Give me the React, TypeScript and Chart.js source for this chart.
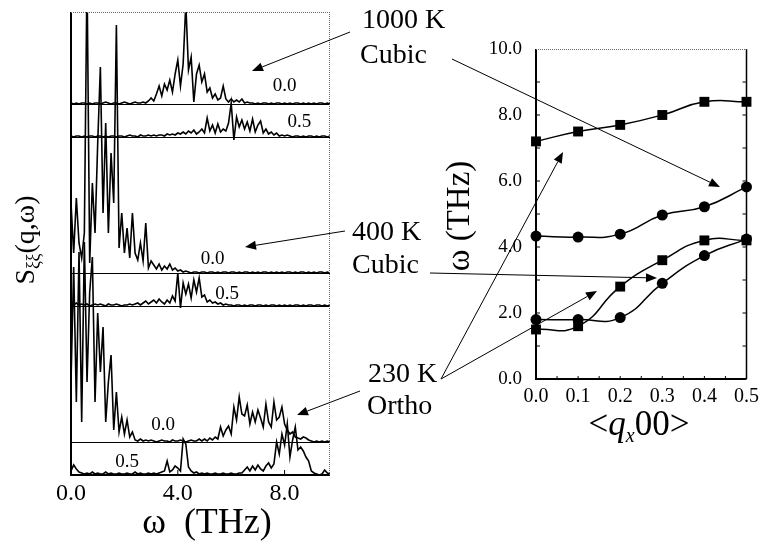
import React, { useEffect, useRef } from "react";
import { Chart, registerables } from "chart.js";
Chart.register(...registerables);

// ---------- Left panel: S(q,ω) spectra ----------
const FREQ = [
  0, 0.1, 0.2, 0.3, 0.4, 0.5, 0.6, 0.7, 0.8, 0.9,
  1, 1.1, 1.2, 1.3, 1.4, 1.5, 1.6, 1.7, 1.8, 1.9,
  2, 2.1, 2.2, 2.3, 2.4, 2.5, 2.6, 2.7, 2.8, 2.9,
  3, 3.1, 3.2, 3.3, 3.4, 3.5, 3.6, 3.7, 3.8, 3.9,
  4, 4.1, 4.2, 4.3, 4.4, 4.5, 4.6, 4.7, 4.8, 4.9,
  5, 5.1, 5.2, 5.3, 5.4, 5.5, 5.6, 5.7, 5.8, 5.9,
  6, 6.1, 6.2, 6.3, 6.4, 6.5, 6.6, 6.7, 6.8, 6.9,
  7, 7.1, 7.2, 7.3, 7.4, 7.5, 7.6, 7.7, 7.8, 7.9,
  8, 8.1, 8.2, 8.3, 8.4, 8.5, 8.6, 8.7, 8.8, 8.9,
  9, 9.1, 9.2, 9.3, 9.4, 9.5, 9.6, 9.7,
];

// intensities (arbitrary units) above each spectrum's own baseline
const S_1000K_Q00 = [
  1, 0, 1, 0, 1, 1, 0, 1, 0, 1,
  1, 0, 1, 2, 1, 0, 1, 1, 0, 1,
  2, 1, 0, 1, 2, 1, 1, 2, 1, 3,
  6, 3, 10, 18, 8, 20, 14, 24, 12, 30,
  44, 18, 40, 100, 34, 47, 2, 30, 39, 22,
  30, 12, 16, 6, 10, 4, 6, 18, 5, 2,
  5, 2, 4, 2, 5, 1, 2, 1, 1, 0,
  1, 0, 1, 1, 0, 1, 0, 1, 1, 0,
  1, 0, 1, 0, 1, 1, 0, 1, 0, 1,
  0, 1, 0, 1, 1, 0, 1, 0,
];
const S_1000K_Q05 = [
  1, 0, 1, 1, 0, 1, 0, 1, 1, 0,
  1, 1, 0, 1, 0, 1, 1, 0, 1, 1,
  0, 1, 2, 1, 1, 0, 2, 1, 1, 2,
  1, 2, 1, 2, 2, 1, 3, 2, 3, 2,
  4, 3, 5, 3, 6, 4, 7, 3, 5, 8,
  4, 19, 6, 12, 4, 13, 5, 8, 6, 14,
  34, -3, 20, 10, 17, 8, 15, 6, 18, 5,
  12, 16, 4, 8, 3, 5, 2, 4, 1, 2,
  1, 2, 1, 0, 1, 1, 0, 1, 0, 1,
  1, 0, 1, 0, 1, 1, 0, 1,
];
const S_400K_Q00 = [
  70, 20, 75, 30, 15, 40, 300, 10, 90, 40,
  130, 206, 60, 150, 40, 120, 70, 248, 25, 60,
  20, 45, 15, 60, 20, 13, 30, 12, 50, 5,
  12, 8, 4, 9, 3, 7, 4, 9, 3, 5,
  2, 3, 1, 2, 1, 0, 1, 1, 0, 1,
  1, 0, 1, 1, 0, 1, 0, 1, 1, 0,
  1, 1, 0, 1, 0, 1, 1, 0, 1, 0,
  1, 0, 1, 1, 0, 1, 0, 1, 0, 1,
  0, 1, 1, 0, 1, 0, 1, 1, 0, 1,
  0, 1, 0, 1, 1, 0, 1, 0,
];
const S_400K_Q05 = [
  2, 1, 3, 1, 2, 1, 2, 0, 1, 2,
  1, 2, 1, 0, 2, 1, 1, 2, 1, 0,
  1, 1, 2, 1, 2, 3, 1, 3, 5, 2,
  4, 6, 3, 7, 4, 2, 6, 3, 10, 5,
  33, -2, 23, 12, 22, 8, 26, 14, 28, 9,
  11, 4, 6, 3, 4, 2, 3, 1, 2, 1,
  1, 0, 1, 1, 0, 1, 0, 1, 1, 0,
  1, 1, 0, 1, 0, 1, 1, 0, 1, 0,
  1, 0, 1, 0, 1, 1, 0, 1, 0, 1,
  1, 0, 1, 1, 0, 1, 0, 1,
];
const S_230K_Q00 = [
  60, 175, 40, 190, 20, 200, 60, 150, 185, 40,
  129, 70, 115, 20, 60, 87, 12, 50, 10, 25,
  8, 22, 5, 10, 2, 1, 3, 1, 2, 1,
  2, 1, 0, 1, 2, 1, 1, 0, 2, 1,
  1, 2, 1, 0, 1, 2, 1, 1, 3, 1,
  3, 1, 4, 2, 5, 3, 15, 6, 12, 16,
  8, 35, 22, 45, 28, 26, 37, 18, 30, 20,
  32, 24, 15, 38, 20, 15, 40, 22, 25, 35,
  18, 12, 8, 10, 5, 4, 3, 5, 4, 2,
  1, 0, 1, 0, 1, 0, 1, 0,
];
const S_230K_Q05 = [
  4, 10, 6, 3, 2, 1, 2, 1, 3, 1,
  2, 1, 1, 3, 1, 2, 1, 1, 2, 1,
  1, 2, 1, 1, 3, 1, 2, 1, 1, 2,
  1, 2, 1, 2, 3, 4, 14, 3, 5, 9,
  7, 4, 36, 31, 8, 4, 2, 3, 1, 2,
  1, 2, 1, 1, 2, 1, 1, 2, 1, 1,
  2, 1, 1, 2, 2, 5, 8, 4, 9, 5,
  10, 6, 4, 9, 12, 7, 11, 33, 21, 41,
  30, 51, 18, 35, 48, 25, 28, 24, 18, 14,
  4, 2, 1, 0, 1, 5, 2, 1,
];
const SPECTRA = [S_1000K_Q00, S_1000K_Q05, S_400K_Q00, S_400K_Q05, S_230K_Q00, S_230K_Q05];
const OFFSETS = [371, 338, 202, 169, 33, 0];
const SPEC_LABELS = ["0.0", "0.5", "0.0", "0.5", "0.0", "0.5"];
const SPEC_LABEL_FREQ = [8.0, 8.55, 5.3, 5.85, 3.45, 2.1];
const SPEC_LABEL_RISE = [13, 10, 9, 7, 12, 8];
const LEFT_X_TICKS = [0, 4, 8];

// ---------- Right panel: dispersion ----------
const Q = [0, 0.1, 0.2, 0.3, 0.4, 0.5];
const SQ_UPPER = [7.2, 7.5, 7.7, 8.0, 8.4, 8.4];
const CI_MIDDLE = [4.33, 4.3, 4.39, 4.97, 5.22, 5.82];
const SQ_LOWER = [1.5, 1.6, 2.8, 3.6, 4.2, 4.2];
const CI_LOWER = [1.8, 1.8, 1.86, 2.9, 3.74, 4.24];
const RIGHT_Y_TICKS = [0, 2, 4, 6, 8, 10];
const RIGHT_X_TICKS = [0, 0.1, 0.2, 0.3, 0.4, 0.5];

const SERIF = '"Liberation Serif", "Times New Roman", serif';
const W = 765;
const H = 544;

function line(ctx: CanvasRenderingContext2D, x1: number, y1: number, x2: number, y2: number) {
  ctx.beginPath();
  ctx.moveTo(x1, y1);
  ctx.lineTo(x2, y2);
  ctx.stroke();
}

function arrow(ctx: CanvasRenderingContext2D, x1: number, y1: number, x2: number, y2: number) {
  const a = Math.atan2(y2 - y1, x2 - x1);
  const L = 11;
  const w = 4.5;
  const bx = x2 - L * Math.cos(a);
  const by = y2 - L * Math.sin(a);
  line(ctx, x1, y1, bx, by);
  ctx.beginPath();
  ctx.moveTo(x2, y2);
  ctx.lineTo(bx + w * Math.sin(a), by - w * Math.cos(a));
  ctx.lineTo(bx - w * Math.sin(a), by + w * Math.cos(a));
  ctx.closePath();
  ctx.fill();
}

type Part = [string, string, number];
function drawParts(ctx: CanvasRenderingContext2D, parts: Part[], cx: number, baseline: number) {
  let total = 0;
  const widths = parts.map(([t, f]) => {
    ctx.font = f;
    const w = ctx.measureText(t).width;
    total += w;
    return w;
  });
  let x = cx - total / 2;
  ctx.textAlign = "left";
  ctx.textBaseline = "alphabetic";
  parts.forEach(([t, f, dy], i) => {
    ctx.font = f;
    ctx.fillText(t, x, baseline + dy);
    x += widths[i];
  });
}

const leftDecor = {
  id: "leftDecor",
  afterDraw(chart: any) {
    const { ctx, chartArea, scales } = chart;
    const { left, right, top, bottom } = chartArea;
    const x = scales.x;
    const y = scales.y;
    ctx.save();
    ctx.strokeStyle = "#000";
    ctx.fillStyle = "#000";
    ctx.lineWidth = 1;
    OFFSETS.forEach((o) => {
      const yy = Math.round(y.getPixelForValue(o)) + 0.5;
      line(ctx, left, yy, right, yy);
    });
    // frame
    ctx.lineWidth = 2;
    line(ctx, left, top, left, bottom + 1);
    line(ctx, left - 1, bottom, right, bottom);
    ctx.lineWidth = 1;
    ctx.strokeStyle = "#666";
    ctx.setLineDash([1, 1]);
    line(ctx, left, top + 0.5, right, top + 0.5);
    line(ctx, right - 0.5, top, right - 0.5, bottom);
    ctx.setLineDash([]);
    ctx.strokeStyle = "#000";
    LEFT_X_TICKS.forEach((v) => {
      const xx = x.getPixelForValue(v);
      line(ctx, xx, bottom, xx, bottom - 5);
    });
    // spectrum labels
    ctx.font = `19px ${SERIF}`;
    ctx.textAlign = "center";
    ctx.textBaseline = "alphabetic";
    SPEC_LABELS.forEach((t, i) => {
      ctx.fillText(t, x.getPixelForValue(SPEC_LABEL_FREQ[i]), y.getPixelForValue(OFFSETS[i] + SPEC_LABEL_RISE[i]));
    });
    // x title
    drawParts(ctx, [["ω  (THz)", `36px ${SERIF}`, 0]], 207, 533);
    // y title
    ctx.save();
    ctx.translate(28, 240);
    ctx.rotate(-Math.PI / 2);
    drawParts(
      ctx,
      [
        ["S", `28px ${SERIF}`, 0],
        ["ξξ", `18px ${SERIF}`, 5],
        ["(q,ω)", `28px ${SERIF}`, 0],
      ],
      0,
      6
    );
    ctx.restore();
    ctx.restore();
  },
};

const rightDecor = {
  id: "rightDecor",
  afterDraw(chart: any) {
    const { ctx, chartArea, scales } = chart;
    const { left, right, top, bottom } = chartArea;
    const x = scales.x;
    const y = scales.y;
    ctx.save();
    ctx.strokeStyle = "#000";
    ctx.fillStyle = "#000";
    // frame
    ctx.lineWidth = 2;
    line(ctx, left, top, left, bottom + 1);
    line(ctx, left - 1, bottom, right, bottom);
    ctx.lineWidth = 1.5;
    line(ctx, right, top, right, bottom);
    ctx.lineWidth = 1;
    ctx.strokeStyle = "#666";
    ctx.setLineDash([1, 1]);
    line(ctx, left, top + 0.5, right, top + 0.5);
    ctx.setLineDash([]);
    ctx.strokeStyle = "#000";
    for (let v = 1; v < 10; v++) {
      const yy = y.getPixelForValue(v);
      line(ctx, right, yy, right - 4, yy);
      line(ctx, left, yy, left + 4, yy);
    }
    for (let v = 0.05; v < 0.5; v += 0.05) {
      const xx = x.getPixelForValue(v);
      line(ctx, xx, bottom, xx, bottom - 3);
    }
    // axis titles
    ctx.save();
    ctx.translate(462, 216);
    ctx.rotate(-Math.PI / 2);
    drawParts(ctx, [["ω (THz)", `33px ${SERIF}`, 0]], 0, 7);
    ctx.restore();
    drawParts(
      ctx,
      [
        ["<", `35px ${SERIF}`, 0],
        ["q", `italic 35px ${SERIF}`, 0],
        ["x", `italic 20px ${SERIF}`, 7],
        ["00>", `35px ${SERIF}`, 0],
      ],
      639,
      435
    );
    // annotations
    ctx.font = `28px ${SERIF}`;
    ctx.textAlign = "left";
    ctx.textBaseline = "alphabetic";
    ctx.fillText("1000 K", 362, 28);
    ctx.fillText("Cubic", 360, 63);
    ctx.fillText("400 K", 352, 240);
    ctx.fillText("Cubic", 352, 273);
    ctx.fillText("230 K", 368, 382);
    ctx.fillText("Ortho", 367, 414);
    ctx.lineWidth = 1;
    arrow(ctx, 350, 32, 252, 71);
    arrow(ctx, 345, 231, 245, 247);
    arrow(ctx, 360, 391, 297, 415);
    arrow(ctx, 452, 59, 720, 187);
    arrow(ctx, 430, 273, 657, 278);
    arrow(ctx, 441, 379, 563, 152);
    arrow(ctx, 441, 379, 597, 291);
    ctx.restore();
  },
};

function series(xs: number[], ys: number[]) {
  return xs.map((v, i) => ({ x: v, y: ys[i] }));
}

export default function App() {
  const leftRef = useRef<HTMLCanvasElement>(null);
  const rightRef = useRef<HTMLCanvasElement>(null);

  useEffect(() => {
    const tickFont = (size: number) => ({ family: SERIF, size });
    const left = new Chart(leftRef.current!, {
      type: "line",
      data: {
        datasets: SPECTRA.map((s, k) => ({
          data: FREQ.map((f, i) => ({ x: f, y: OFFSETS[k] + s[i] })),
          borderColor: "#000",
          borderWidth: 1.6,
          pointRadius: 0,
          tension: 0,
          fill: false,
        })),
      },
      options: {
        animation: false,
        responsive: false,
        devicePixelRatio: 1,
        events: [],
        layout: { padding: { left: 71, right: 435, top: 12, bottom: 30 } },
        plugins: { legend: { display: false }, tooltip: { enabled: false } },
        scales: {
          x: {
            type: "linear",
            min: 0,
            max: 9.7,
            afterBuildTicks: (s: any) => {
              s.ticks = LEFT_X_TICKS.map((v) => ({ value: v }));
            },
            afterFit: (s: any) => {
              s.height = 39;
            },
            grid: { display: false, drawTicks: false },
            border: { display: false },
            ticks: {
              font: tickFont(24),
              color: "#000",
              padding: 4,
              maxRotation: 0,
              autoSkip: false,
              callback: (v: any) => Number(v).toFixed(1),
            },
          },
          y: { type: "linear", display: false, min: 0, max: 463 },
        },
      },
      plugins: [leftDecor],
    } as any);

    const mk = (ys: number[], style: string) => ({
      data: series(Q, ys),
      borderColor: "#000",
      borderWidth: 1.5,
      pointStyle: style,
      pointRadius: style === "rect" ? 7 : 5.5,
      pointBackgroundColor: "#000",
      pointBorderColor: "#000",
      pointBorderWidth: 0,
      tension: 0.5,
      fill: false,
      clip: false,
    });
    const right = new Chart(rightRef.current!, {
      type: "line",
      data: {
        datasets: [mk(SQ_UPPER, "rect"), mk(CI_MIDDLE, "circle"), mk(SQ_LOWER, "rect"), mk(CI_LOWER, "circle")],
      },
      options: {
        animation: false,
        responsive: false,
        devicePixelRatio: 1,
        events: [],
        layout: { padding: { left: 466, right: 12, top: 49, bottom: 135 } },
        plugins: { legend: { display: false }, tooltip: { enabled: false } },
        scales: {
          x: {
            type: "linear",
            min: 0,
            max: 0.5,
            afterBuildTicks: (s: any) => {
              s.ticks = RIGHT_X_TICKS.map((v) => ({ value: v }));
            },
            afterFit: (s: any) => {
              s.height = 30;
            },
            grid: { display: false, drawTicks: false },
            border: { display: false },
            ticks: {
              font: tickFont(20),
              color: "#000",
              padding: 6,
              maxRotation: 0,
              autoSkip: false,
              callback: (v: any) => Number(v).toFixed(1),
            },
          },
          y: {
            type: "linear",
            min: 0,
            max: 10,
            afterBuildTicks: (s: any) => {
              s.ticks = RIGHT_Y_TICKS.map((v) => ({ value: v }));
            },
            afterFit: (s: any) => {
              s.width = 70;
            },
            grid: { display: false, drawTicks: false },
            border: { display: false },
            ticks: {
              font: tickFont(19),
              color: "#000",
              padding: 14,
              autoSkip: false,
              callback: (v: any) => Number(v).toFixed(1),
            },
          },
        },
      },
      plugins: [rightDecor],
    } as any);

    return () => {
      left.destroy();
      right.destroy();
    };
  }, []);

  return (
    <div style={{ position: "fixed", left: 0, top: 0, width: W, height: H, background: "#fff" }}>
      <canvas ref={leftRef} width={W} height={H} style={{ position: "absolute", left: 0, top: 0 }} />
      <canvas ref={rightRef} width={W} height={H} style={{ position: "absolute", left: 0, top: 0 }} />
    </div>
  );
}
